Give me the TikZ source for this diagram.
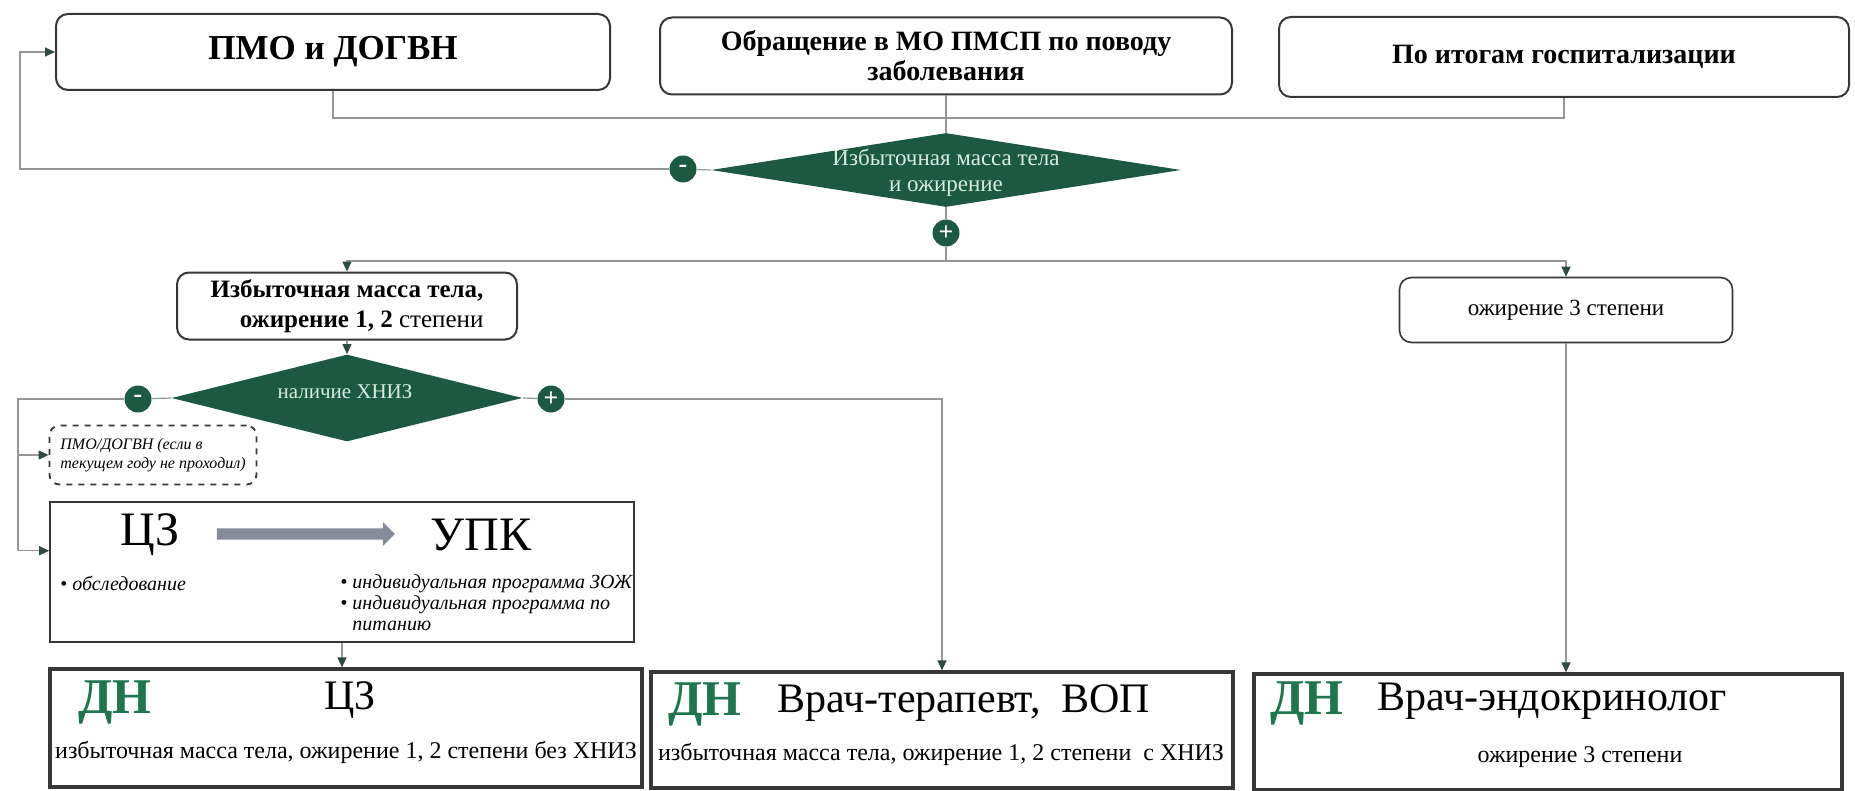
\documentclass[tikz,border=0pt]{standalone}
\usepackage{fontspec}
\setmainfont{Liberation Serif}
\usetikzlibrary{shapes.geometric,shapes.arrows,arrows.meta,calc,positioning}

\definecolor{dgreen}{RGB}{27,90,64}
\definecolor{dngreen}{RGB}{30,118,78}
\definecolor{mint}{RGB}{214,236,222}
\definecolor{linegray}{RGB}{150,150,150}
\definecolor{boxgray}{RGB}{55,55,55}
\definecolor{tipcol}{RGB}{45,75,62}
\definecolor{arrowgray}{RGB}{135,140,156}

\begin{document}
\begin{tikzpicture}[x=0.5pt,y=-0.5pt,
        topbox/.style={draw=boxgray,line width=1pt,rounded corners=6pt,align=center},
        dnbox/.style={draw=boxgray,line width=1.6pt},
        romb/.style={diamond,fill=dgreen,inner sep=0pt},
        rombtext/.style={text=mint,align=center},
        sign/.style={circle,fill=dgreen,text=white,inner sep=0pt,minimum size=13.5pt,font=\fontsize{13}{13}\selectfont\bfseries},
        conn/.style={draw=linegray,line width=0.6pt},
        arr/.style={conn,-{Triangle[length=5pt,width=4.5pt,color=tipcol]}},
        dnmark/.style={text=dngreen,font=\fontsize{25}{27}\selectfont\bfseries},
        dntitle/.style={font=\fontsize{21}{23}\selectfont},
        dntext/.style={font=\fontsize{12}{14}\selectfont}]

    \useasboundingbox (0,0) rectangle (1855,791);

    \node[topbox,minimum width=277pt,minimum height=38pt,font=\fontsize{17.5}{20}\selectfont\bfseries] (pmo) at (333,52) {ПМО и ДОГВН};
    \node[topbox,minimum width=286pt,minimum height=38.5pt,font=\fontsize{14}{15}\selectfont\bfseries] (obr) at (946,56) {Обращение в МО ПМСП по поводу\\заболевания};
    \node[topbox,minimum width=285pt,minimum height=40pt,font=\fontsize{14}{16}\selectfont\bfseries] (gosp) at (1564,57) {По итогам госпитализации};

    \node[romb,minimum width=235pt,minimum height=37pt] (romb1) at (946,170) {};
    \node[rombtext,font=\fontsize{11.5}{13}\selectfont] (romb1txt) at (946,173) {Избыточная масса тела\\и ожирение};
    \node[sign] (minus1) at (683,169) {-};
    \node[sign] (plus1) at (946,233) {+};

    \node[topbox,minimum width=170pt,minimum height=33.5pt,align=right,font=\fontsize{12.5}{15}\selectfont] (izb) at (347,306) {\textbf{Избыточная масса тела,}\\\textbf{ожирение 1, 2} степени};
    \node[topbox,line width=0.8pt,minimum width=166.5pt,minimum height=32.5pt,font=\fontsize{11.5}{13}\selectfont] (ozh3) at (1566,310) {ожирение 3 степени};

    \node[romb,minimum width=175.5pt,minimum height=43.5pt] (romb2) at (347,398) {};
    \node[rombtext,font=\fontsize{10.5}{12}\selectfont] (romb2txt) at (345,392) {наличие ХНИЗ};
    \node[sign] (minus2) at (138,399) {-};
    \node[sign] (plus2) at (551,399) {+};

    \node[draw=boxgray,dashed,line width=0.9pt,rounded corners=5pt,minimum width=103.5pt,minimum height=29.5pt,align=left,font=\fontsize{8}{9.5}\selectfont\itshape] (pmo2) at (153,455) {ПМО/ДОГВН (если в\\текущем году не проходил)};

    \node[draw=boxgray,line width=0.8pt,minimum width=292pt,minimum height=70pt] (czbox) at (342,572) {};
    \node[font=\fontsize{24}{26}\selectfont] (cz) at (150,535) {ЦЗ};
    \node[single arrow,fill=arrowgray,minimum height=89pt,minimum width=12pt,inner sep=2.5pt,single arrow head extend=3pt] (czarrow) at (303,534) {};
    \node[font=\fontsize{24}{26}\selectfont] (upk) at (481,535) {УПК};
    \node[anchor=west,inner sep=0pt,font=\fontsize{10}{10.5}\selectfont] (obsl) at (60,583) {\textbullet\ \textit{обследование}};
    \node[anchor=north west,inner sep=0pt,align=left,font=\fontsize{10}{10.5}\selectfont\itshape] (prog) at (340,574) {\textbullet\ индивидуальная программа ЗОЖ\\\textbullet\ индивидуальная программа по\\\phantom{\textbullet\ }питанию};

    \node[dnbox,minimum width=296pt,minimum height=59pt] (dnA) at (346,728) {};
    \node[dnmark] (dnAmark) at (115,702) {ДН};
    \node[dntitle] (dnAtitle) at (350,700) {ЦЗ};
    \node[dntext] (dnAtext) at (346,752) {избыточная масса тела, ожирение 1, 2 степени без ХНИЗ};

    \node[dnbox,minimum width=291pt,minimum height=58pt] (dnB) at (942,730) {};
    \node[dnmark] (dnBmark) at (705,704) {ДН};
    \node[dntitle] (dnBtitle) at (964,703) {Врач-терапевт,\ \ ВОП};
    \node[dntext] (dnBtext) at (941,754) {избыточная масса тела, ожирение 1, 2 степени\ \ с ХНИЗ};

    \node[dnbox,minimum width=294pt,minimum height=58pt] (dnC) at (1548,732) {};
    \node[dnmark] (dnCmark) at (1307,703) {ДН};
    \node[dntitle] (dnCtitle) at (1552,701) {Врач-эндокринолог};
    \node[dntext] (dnCtext) at (1580,757) {ожирение 3 степени};

    \coordinate (bus) at (1564,118);
    \coordinate (fbL) at (20,169);
    \coordinate (split) at (946,261);
    \coordinate (loopL) at (18,399);
    \coordinate (czIn) at ($(czbox.north west)!0.35!(czbox.south west)$);

    \draw[conn] (pmo.south) |- (bus) -| (gosp.south);
    \draw[conn] (obr.south) -- (romb1.north);
    \draw[conn] (romb1.west) -- (minus1);
    \draw[arr] (minus1) -- (fbL) |- (pmo.west);
    \draw[conn] (romb1.south) -- (plus1);
    \draw[arr] (plus1) -- (split) -| (izb.north);
    \draw[arr] (split) -| (ozh3.north);
    \draw[arr] (izb) -- (romb2);
    \draw[conn] (romb2.west) -- (minus2);
    \draw[arr] (minus2) -- (loopL) |- (czIn);
    \draw[arr] (loopL |- pmo2.west) -- (pmo2.west);
    \draw[conn] (romb2.east) -- (plus2);
    \draw[arr] (plus2) -| (dnB.north);
    \draw[arr] (czbox.south) -- (czbox.south |- dnA.north);
    \draw[arr] (ozh3.south) -- (ozh3.south |- dnC.north);

\end{tikzpicture}
\end{document}
